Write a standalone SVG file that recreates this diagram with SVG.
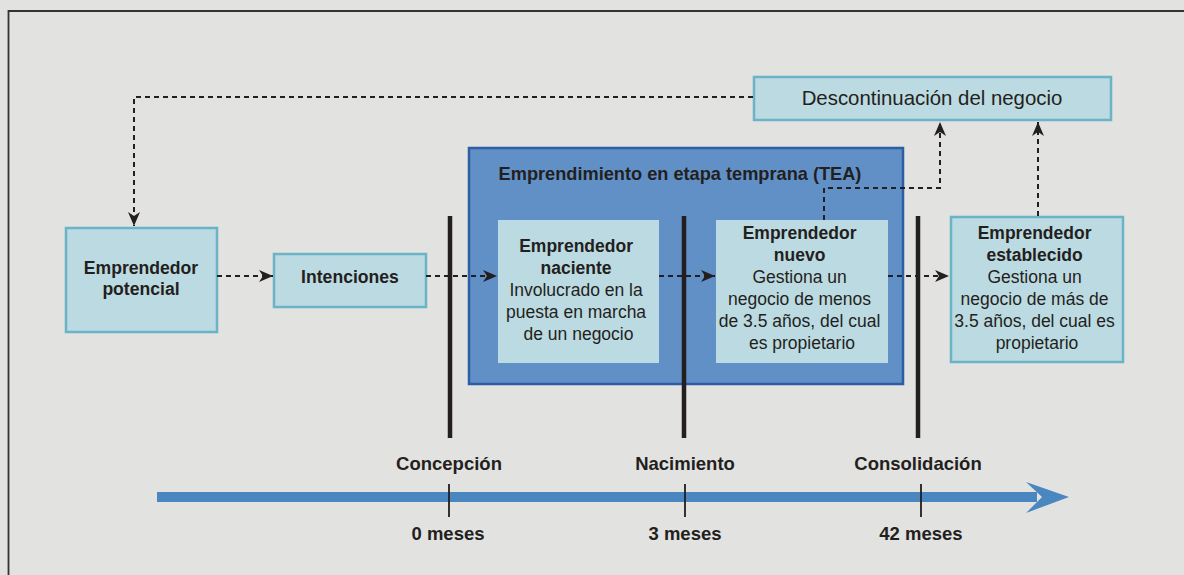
<svg xmlns="http://www.w3.org/2000/svg" width="1184" height="575" viewBox="0 0 1184 575">
<defs>
<marker id="ah" markerUnits="userSpaceOnUse" markerWidth="16" markerHeight="14" refX="14" refY="7" orient="auto">
<path d="M0,1 L14,7 L0,13 L4,7 z" fill="#231f20"/>
</marker>
<style>
.t{font-family:"Liberation Sans",Arial,sans-serif;fill:#231f20;text-anchor:middle}
.b{font-weight:bold}
.box{fill:#bcdae1;stroke:#6bb3c7;stroke-width:2.5}
.inner{fill:#bcdae1}
.tea{fill:#6190c7;stroke:#2c5ea6;stroke-width:2.5}
.bar{stroke:#231f20;stroke-width:4.5}
.dash{fill:none;stroke:#231f20;stroke-width:2;stroke-dasharray:5,4;marker-end:url(#ah)}
.tick{stroke:#231f20;stroke-width:1.8}
</style>
</defs>
<rect x="0" y="0" width="1184" height="575" fill="#e2e2e0"/>
<path d="M8.5,575 V11 H1184" fill="none" stroke="#333" stroke-width="1.8"/>

<g id="tea">
<rect class="tea" x="469" y="148" width="434" height="236"/>
<text class="t b" x="680" y="180" font-size="18.2">Emprendimiento en etapa temprana (TEA)</text>
</g>

<g id="potencial">
<rect class="box" x="66" y="228" width="151" height="104"/>
<text class="t b" x="141" y="274" font-size="17.6">Emprendedor</text>
<text class="t b" x="141" y="295" font-size="17.6">potencial</text>
</g>

<g id="intenciones">
<rect class="box" x="274" y="254" width="152" height="53"/>
<text class="t b" x="350" y="283" font-size="17.6">Intenciones</text>
</g>

<g id="naciente">
<rect class="inner" x="498" y="220" width="161" height="143"/>
<text class="t" font-size="17.5" x="578.5">
<tspan class="b" x="578.5" y="252">Emprendedor</tspan>
<tspan class="b" x="578.5" y="274">naciente</tspan>
<tspan x="578.5" y="296">Involucrado en la</tspan>
<tspan x="578.5" y="318">puesta en marcha</tspan>
<tspan x="578.5" y="340">de un negocio</tspan>
</text>
</g>

<g id="nuevo">
<rect class="inner" x="716" y="220" width="172" height="143"/>
<text class="t" font-size="17.5" x="802">
<tspan class="b" x="802" y="239">Emprendedor</tspan>
<tspan class="b" x="802" y="261">nuevo</tspan>
<tspan x="802" y="283">Gestiona un</tspan>
<tspan x="802" y="305">negocio de menos</tspan>
<tspan x="802" y="327">de 3.5 años, del cual</tspan>
<tspan x="802" y="349">es propietario</tspan>
</text>
</g>

<g id="establecido">
<rect class="box" x="951" y="217" width="172" height="145"/>
<text class="t" font-size="17.5" x="1037">
<tspan class="b" x="1037" y="239">Emprendedor</tspan>
<tspan class="b" x="1037" y="261">establecido</tspan>
<tspan x="1037" y="283">Gestiona un</tspan>
<tspan x="1037" y="305">negocio de más de</tspan>
<tspan x="1037" y="327">3.5 años, del cual es</tspan>
<tspan x="1037" y="349">propietario</tspan>
</text>
</g>

<g id="descontinuacion">
<rect class="box" x="754" y="77" width="357" height="43"/>
<text class="t" x="932" y="105" font-size="20.4">Descontinuación del negocio</text>
</g>

<g id="connectors">
<path class="dash" d="M753,97 H134 V226"/>
<path class="dash" d="M217,276 H273"/>
<path class="dash" d="M426,276 H497"/>
<path class="dash" d="M659,276 H715"/>
<path class="dash" d="M888,276 H949"/>
<path class="dash" d="M824,220 V188 H940 V122"/>
<path class="dash" d="M1038,216 V122"/>
</g>

<g id="bars">
<line class="bar" x1="450" y1="216" x2="450" y2="438"/>
<line class="bar" x1="684" y1="216" x2="684" y2="438"/>
<line class="bar" x1="918" y1="216" x2="918" y2="438"/>
</g>

<g id="timeline">
<rect x="157" y="492" width="880" height="10" fill="#4a87c1"/>
<path d="M1026,482 L1069,497 L1026,513 L1042,497 z" fill="#4a87c1"/>
<line class="tick" x1="449" y1="484" x2="449" y2="517"/>
<line class="tick" x1="685" y1="484" x2="685" y2="517"/>
<line class="tick" x1="921" y1="484" x2="921" y2="517"/>
<text class="t b" x="449" y="470" font-size="18.5">Concepción</text>
<text class="t b" x="685" y="470" font-size="18.5">Nacimiento</text>
<text class="t b" x="918" y="470" font-size="18.5">Consolidación</text>
<text class="t b" x="448" y="540" font-size="18.5">0 meses</text>
<text class="t b" x="685" y="540" font-size="18.5">3 meses</text>
<text class="t b" x="921" y="540" font-size="18.5">42 meses</text>
</g>
</svg>
